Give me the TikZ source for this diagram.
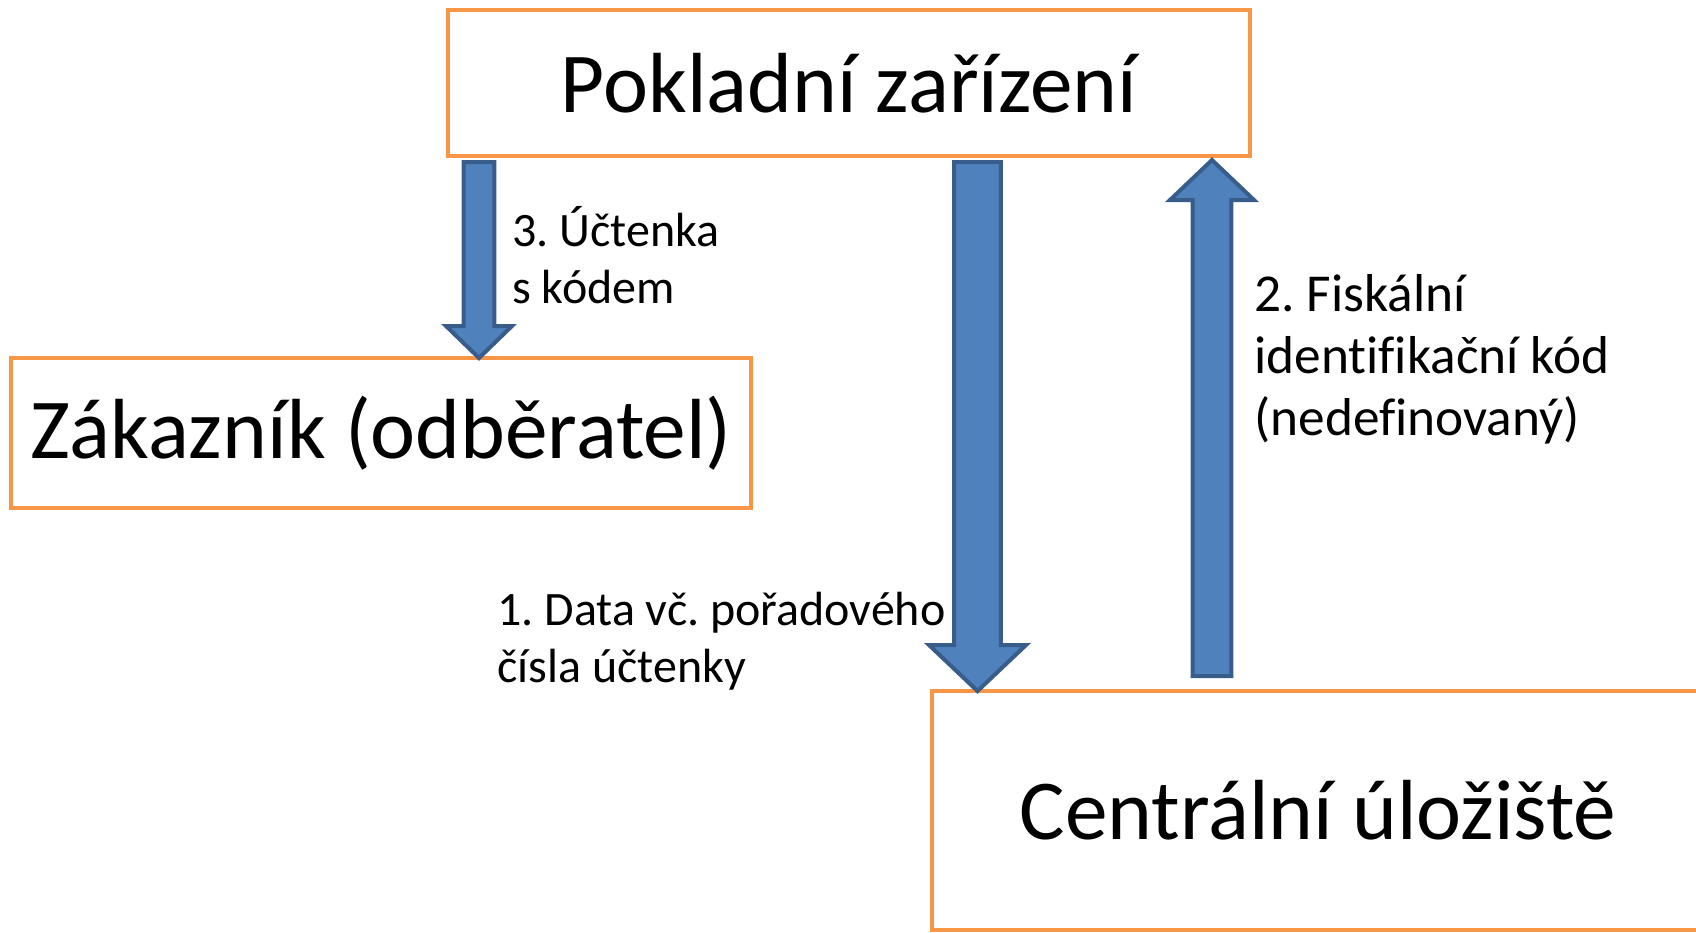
\documentclass[tikz,border=0pt]{standalone}
\usepackage{fontspec}
\setmainfont{Carlito}[Ligatures=NoCommon]
\frenchspacing
\usetikzlibrary{calc}
\definecolor{boxorange}{HTML}{F79646}
\definecolor{arrowblue}{HTML}{4F81BD}
\definecolor{arrowedge}{HTML}{385D8A}
\tikzset{
	box/.style={
		draw=boxorange, line width=3.4pt, fill=white,
		inner sep=0pt, outer sep=0pt,
		font=\fontsize{64}{77}\selectfont},
	note/.style={
		anchor=base west, align=left, inner sep=0pt,
		font=\fontsize{36}{42.75}\selectfont},
	blockarrow/.style n args={3}{
		fill=arrowblue, draw=arrowedge, line width=3pt,
		to path={
			-- ($(\tikztostart)!#1!90:(\tikztotarget)$)
			-- ($($(\tikztotarget)!#3!(\tikztostart)$)!#1!90:(\tikztotarget)$)
			-- ($($(\tikztotarget)!#3!(\tikztostart)$)!#2!90:(\tikztotarget)$)
			-- (\tikztotarget)
			-- ($($(\tikztotarget)!#3!(\tikztostart)$)!#2!-90:(\tikztotarget)$)
			-- ($($(\tikztotarget)!#3!(\tikztostart)$)!#1!-90:(\tikztotarget)$)
			-- ($(\tikztostart)!#1!-90:(\tikztotarget)$)
			-- cycle}}
}

\begin{document}
\begin{tikzpicture}[x=0.75pt,y=0.75pt,yscale=-1,xscale=1]
\useasboundingbox (0,0) rectangle (1696,932); %keep the page at 1696 x 932

\draw (849,83) node [box, minimum width=601.5pt, minimum height=109.5pt] (pos) {Pokladní zařízení};
\draw (381,433) node [box, minimum width=555pt, minimum height=112.5pt] (zak) {Zákazník (odběratel)};
\draw (1318,810.5) node [box, minimum width=579pt, minimum height=179.25pt] (cen) {Centrální úložiště};

\coordinate (a3s) at ($(pos.south west)+(31,6)$);
\coordinate (a3e) at (a3s |- zak.north);
\coordinate (a1e) at ($(cen.north west)+(45.5,0)$);
\coordinate (a1s) at (a1e |- a3s);
\coordinate (a2e) at ($(pos.south east)+(-38,4)$);
\coordinate (a2s) at ($(a2e |- cen.north)+(0,-15)$);

\draw [blockarrow={11.6pt}{24.75pt}{24pt}] (a3s) to (a3e);
\draw [blockarrow={17.6pt}{36.4pt}{34.5pt}] (a1s) to (a1e);
\draw [blockarrow={14.6pt}{31.5pt}{30pt}] (a2s) to (a2e);

% base of a note = baseline of its last line
\draw (512,303) node [note] (lab3) {3. Účtenka\\s kódem};
\draw (1254,435) node [note, font=\fontsize{40}{46.5}\selectfont] (lab2) {2. Fiskální\\identifikační kód\\(nedefinovaný)};
\draw (497,682) node [note] (lab1) {1. Data vč. pořadového\\čísla účtenky};
\end{tikzpicture}
\end{document}
